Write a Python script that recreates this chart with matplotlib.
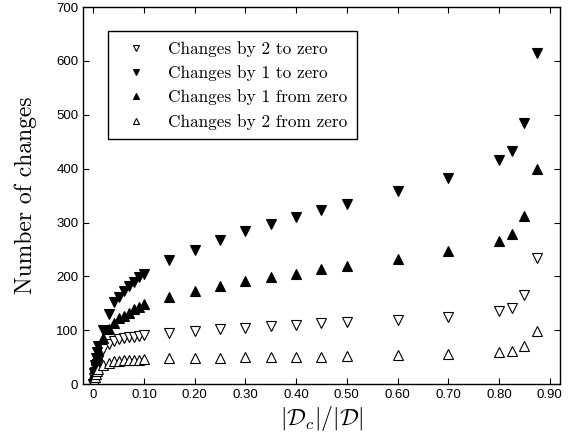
import matplotlib
matplotlib.use("Agg")
import matplotlib.pyplot as plt

# 데이터: x = |Dc|/|D|
x = [0, 0.002, 0.004, 0.006, 0.008, 0.01, 0.02, 0.03, 0.04, 0.05, 0.06, 0.07,
     0.08, 0.09, 0.10, 0.15, 0.20, 0.25, 0.30, 0.35, 0.40, 0.45, 0.50, 0.60,
     0.70, 0.80, 0.825, 0.85, 0.875]

by2_to_zero = [0, 12, 22, 30, 38, 45, 65, 75, 80, 83, 85, 87, 88, 90, 91,
               95, 99, 103, 105, 108, 110, 113, 115, 119, 125, 135, 142, 166, 234]
by1_to_zero = [0, 20, 35, 48, 60, 70, 100, 130, 153, 162, 173, 183, 190, 198, 205,
               230, 249, 267, 284, 298, 311, 324, 335, 359, 383, 416, 433, 485, 615]
by1_from_zero = [0, 18, 32, 44, 54, 62, 85, 102, 114, 122, 127, 132, 139, 143, 148,
                 162, 173, 182, 192, 198, 205, 213, 220, 233, 247, 266, 278, 312, 400]
by2_from_zero = [0, 8, 14, 19, 24, 28, 36, 40, 42, 43, 44, 44.5, 45, 45.5, 46,
                 48, 48, 49, 49.5, 49.5, 51, 51, 51.5, 54, 56, 59, 62, 71, 99]

xticks = [0, 0.1, 0.2, 0.3, 0.4, 0.5, 0.6, 0.7, 0.8, 0.9]
xticklabels = ["0", "0.10", "0.20", "0.30", "0.40", "0.50", "0.60", "0.70", "0.80", "0.90"]
yticks = [0, 100, 200, 300, 400, 500, 600, 700]

plt.rcParams["mathtext.fontset"] = "cm"

fig = plt.figure(figsize=(5.7, 4.44), dpi=100)
ax = fig.add_axes([0.146, 0.135, 0.836, 0.849])

ms = 6.5
ax.plot(x, by2_to_zero, linestyle="none", marker="v", ms=ms, mfc="white",
        mec="black", mew=0.8, label="Changes by 2 to zero")
ax.plot(x, by1_to_zero, linestyle="none", marker="v", ms=ms, mfc="black",
        mec="black", mew=0.8, label="Changes by 1 to zero")
ax.plot(x, by1_from_zero, linestyle="none", marker="^", ms=ms, mfc="black",
        mec="black", mew=0.8, label="Changes by 1 from zero")
ax.plot(x, by2_from_zero, linestyle="none", marker="^", ms=ms, mfc="white",
        mec="black", mew=0.8, label="Changes by 2 from zero")

ax.set_xlim(-0.02, 0.92)
ax.set_ylim(0, 700)
ax.set_xticks(xticks)
ax.set_xticklabels(xticklabels, family="Liberation Sans", fontsize=9.5)
ax.set_yticks(yticks)
ax.set_yticklabels([str(v) for v in yticks], family="Liberation Sans", fontsize=9.5)
ax.tick_params(direction="in", top=True, right=True, length=4, width=0.8)
for s in ax.spines.values():
    s.set_linewidth(1.0)

ax.set_xlabel(r"$|\mathcal{D}_c|/|\mathcal{D}|$", fontsize=17, labelpad=2)
ax.set_ylabel("Number of changes", family="cmr10", fontsize=17, labelpad=14)

leg = ax.legend(loc="upper left", bbox_to_anchor=(0.052, 0.936), borderaxespad=0,
                prop={"family": "cmr10", "size": 12.4}, markerscale=0.7,
                fancybox=False, edgecolor="black", framealpha=1,
                handletextpad=0.85, labelspacing=0.5, borderpad=0.55,
                handlelength=2.1)
leg.get_frame().set_linewidth(1.0)

fig.savefig("out.png", dpi=100)
